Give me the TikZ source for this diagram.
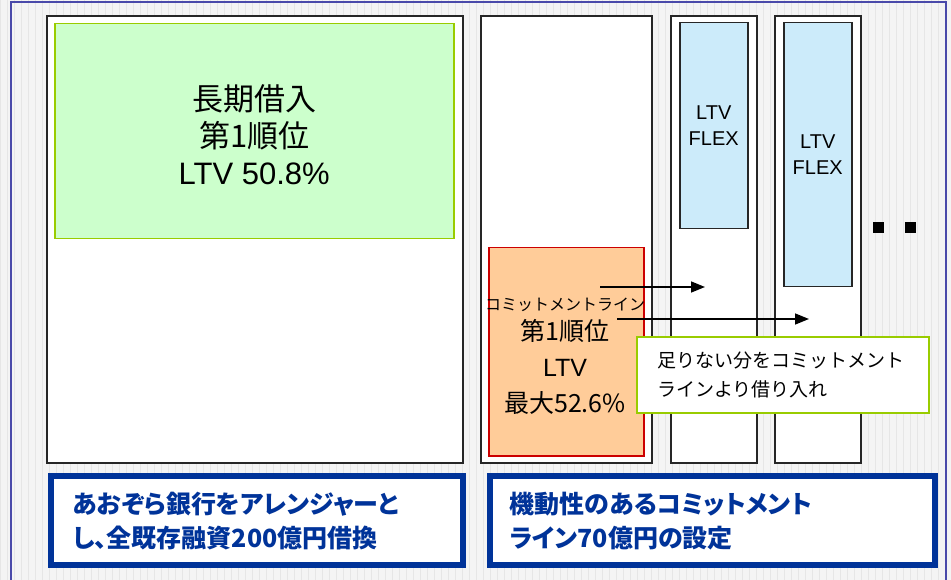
\documentclass[tikz,border=0pt]{standalone}
\usepackage{xcolor}
\usepackage{fontspec}
\setmainfont{Liberation Sans}
\newfontfamily\jp{Noto Sans CJK JP}
\newfontfamily\jpp{Noto Sans CJK JP}[RawFeature=+palt]
\usetikzlibrary{positioning,arrows.meta}

\definecolor{bggray}{HTML}{F4F4F4}
\definecolor{gridgray}{HTML}{E6E6E6}
\definecolor{frameblue}{HTML}{4A4AAA}
\definecolor{loangreen}{HTML}{CCFFCC}
\definecolor{limeedge}{HTML}{99CC00}
\definecolor{flexblue}{HTML}{CCEBFA}
\definecolor{cmorange}{HTML}{FFCC99}
\definecolor{cmred}{HTML}{CC0000}
\definecolor{navy}{HTML}{003399}

\tikzset{
  colbox/.style={draw=black!85, fill=white, line width=1.8pt, anchor=north west, inner sep=0pt},
  trancheA/.style={draw=limeedge, fill=loangreen, line width=1.5pt, anchor=north west, inner sep=0pt},
  flexbox/.style={draw=black!85, fill=flexblue, line width=1.5pt, anchor=north west, inner sep=0pt,
    align=center, font=\fontsize{20}{26}\selectfont},
  cmbox/.style={draw=cmred, fill=cmorange, line width=1.5pt, anchor=north west, inner sep=0pt},
  notebox/.style={draw=limeedge, fill=white, line width=2pt, anchor=north west, inner sep=0pt,
    align=left, font=\jp\fontsize{19}{29}\selectfont},
  summary/.style={draw=navy, fill=white, line width=6pt, anchor=north west, inner sep=0pt},
  sumtext/.style={anchor=west, align=left, text=navy, font=\jpp\bfseries\fontsize{25}{34}\selectfont},
  flow/.style={line width=1.5pt, -{Triangle[length=14pt,width=11pt]}}
}

\begin{document}
\begin{tikzpicture}[x=1pt,y=-1pt]
    \useasboundingbox (0,0) rectangle (951,580);
    % background
    \fill[bggray] (0,0) rectangle (951,580);
    \draw[gridgray, line width=0.6pt, step=7] (0,0) grid (951,580);
    \draw[frameblue, line width=2pt] (11,600) -- (11,2) -- (946,2) -- (946,600);

    % columns
    \node[colbox, minimum width=416, minimum height=447] (bank) at (46,15) {};
    \node[colbox, minimum width=171, minimum height=447] (cmcol) at (480,15) {};
    \node[colbox, minimum width=86, minimum height=447] (flexA) at (670,15) {};
    \node[colbox, minimum width=86, minimum height=447] (flexB) at (774,15) {};

    \node[trancheA, minimum width=399, minimum height=215] (loan) at (54,23) {};
    \node[align=center, font=\fontsize{31}{37}\selectfont] (loantext) at ([yshift=-3]loan.center)
        {{\jp 長期借入}\\ {\jp 第1順位}\\ LTV 50.8\%};

    \node[cmbox, minimum width=155, minimum height=208] (cmline) at (488,247) {};
    \node (cmlabel) at (565,305) {\jp\fontsize{16}{16}\selectfont コミットメントライン};
    \node[align=center, font=\fontsize{25}{36}\selectfont] (cmtext) at (565,367)
        {{\jp 第1順位}\\ LTV\\ {\jp 最大52.6\%}};

    \node[flexbox, minimum width=68, minimum height=206] (ltvA) at (679,22) {LTV\\FLEX};
    \node[flexbox, minimum width=68, minimum height=264] (ltvB) at (783,22) {LTV\\FLEX};

    % more of the same
    \foreach \x in {878,910}
        \fill (\x-5.5,222) rectangle ++(11,11);

    % draws
    \coordinate (drawA) at (600,287);
    \coordinate (drawAend) at (705,287);
    \coordinate (drawB) at (617,319);
    \coordinate (drawBend) at (809,319);
    \draw[flow] (drawA) -- (drawAend);
    \draw[flow] (drawB) -- (drawBend);

    \node[notebox, minimum width=292, minimum height=76, text width=252] (shortfall) at (636,336)
        {足りない分をコミットメント\\ラインより借り入れ};

    % summary boxes
    \node[summary, minimum width=412, minimum height=89] (sumL) at (48,473) {};
    \node[sumtext] (sumLtext) at (69,521) {あおぞら銀行をアレンジャーと\\し、全既存融資200億円借換};
    \node[summary, minimum width=445, minimum height=89] (sumR) at (487,473) {};
    \node[sumtext] (sumRtext) at (506,521) {機動性のあるコミットメント\\ライン70億円の設定};
\end{tikzpicture}
\end{document}
